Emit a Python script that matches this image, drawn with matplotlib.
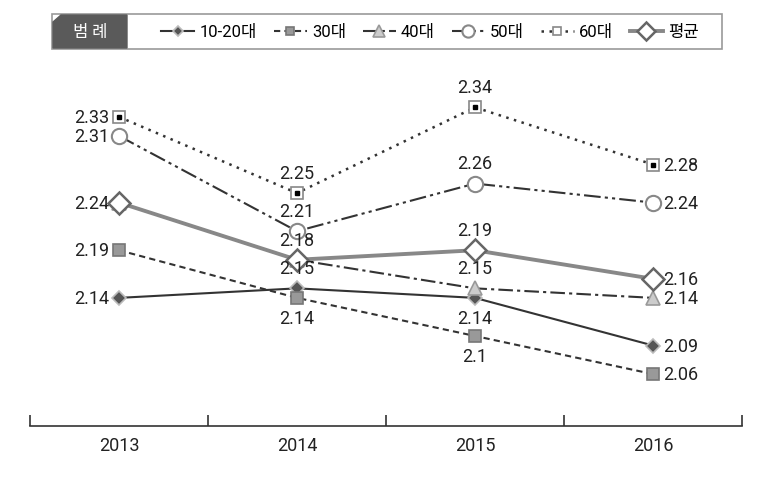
import matplotlib
matplotlib.use('Agg')
import matplotlib.pyplot as plt
from matplotlib.patches import Rectangle, Polygon
from matplotlib.lines import Line2D

plt.rcParams['font.family'] = ['Roboto', 'Noto Sans CJK KR', 'DejaVu Sans']

years = ['2013', '2014', '2015', '2016']
names = ['10-20대', '30대', '40대', '50대', '60대', '평균']
v1020 = [2.14, 2.15, 2.14, 2.09]
v30 = [2.19, 2.14, 2.10, 2.06]
v40 = [2.24, 2.18, 2.15, 2.14]
v50 = [2.31, 2.21, 2.26, 2.24]
v60 = [2.33, 2.25, 2.34, 2.28]
vavg = [2.24, 2.18, 2.19, 2.16]

# 라벨 위치 (l=왼쪽, r=오른쪽, t=위, b=아래, None=없음)
pos1020 = ['l', 't', 'b', 'r']
pos30 = ['l', 'b', 'b', 'r']
pos40 = [None, None, 't', 'r']
pos50 = ['l', 't', 't', 'r']
pos60 = ['l', 't', 't', 'r']
posavg = ['l', 't', 't', 'r']

W, H = 759, 485
fig = plt.figure(figsize=(W / 100, H / 100), dpi=100)
ax = fig.add_axes([30 / W, 1 - 427 / H, 712 / W, 357 / H])

x = list(range(len(years)))

styles = [
    dict(ls='-', color='#333333', lw=1.5, marker='D', ms=7, mfc='#555555', mec='#bbbbbb', mew=1.2),
    dict(ls=(0, (3, 2)), color='#333333', lw=1.5, marker='s', ms=8, mfc='#999999', mec='#777777', mew=1.2),
    dict(ls=(0, (7, 2, 1.5, 2)), color='#333333', lw=1.5, marker='^', ms=10, mfc='#cccccc', mec='#999999', mew=1.2),
    dict(ls=(0, (8, 2, 1.5, 2, 1.5, 2)), color='#333333', lw=1.5, marker='o', ms=11, mfc='white', mec='#888888', mew=1.5),
    dict(ls=(0, (1, 2.2)), color='#333333', lw=1.8, marker='s', ms=8, mfc='white', mec='#888888', mew=1.2),
    dict(ls='-', color='#888888', lw=2.8, marker='D', ms=11, mfc='white', mec='#666666', mew=1.8),
]
series = [v1020, v30, v40, v50, v60, vavg]
positions = [pos1020, pos30, pos40, pos50, pos60, posavg]

handles = []
for i, (vals, st) in enumerate(zip(series, styles)):
    z = 3 + i
    if i == 5:
        z = 10
    ax.plot(x, vals, zorder=z, **st)
    handles.append(Line2D([], [], **st))
# 60대 마커 안의 검은 점
ax.plot(x, v60, ls='none', marker='s', ms=3, color='black', zorder=9)

offs = {'l': (-7, 0, 'right', 'center'), 'r': (7, 0, 'left', 'center'),
        't': (0, 8, 'center', 'bottom'), 'b': (0, -8, 'center', 'top')}
for vals, pos in zip(series, positions):
    for xi, v, p in zip(x, vals, pos):
        if p is None:
            continue
        dx, dy, ha, va = offs[p]
        ax.annotate(f'{v:g}', (xi, v), xytext=(dx, dy), textcoords='offset points',
                    ha=ha, va=va, fontsize=13, color='#222222', zorder=20)

ax.set_xlim(-0.5, 3.5)
ax.set_ylim(2.0055, 2.0055 + 357 / 952.6)
for s in ['top', 'left', 'right']:
    ax.spines[s].set_visible(False)
ax.spines['bottom'].set_color('#333333')
ax.spines['bottom'].set_linewidth(1.2)
ax.set_yticks([])
ax.set_xticks([-0.5, 0.5, 1.5, 2.5, 3.5])
ax.set_xticklabels([])
ax.tick_params(axis='x', which='major', direction='in', length=8, width=1.2, color='#333333')
ax.set_xticks(x, minor=True)
ax.set_xticklabels(years, minor=True, fontsize=13, color='#222222')
ax.tick_params(axis='x', which='minor', length=0, pad=7)

# 범례
def fx(px):
    return px / W

def fy(py):
    return 1 - py / H

fig.patches.append(Rectangle((fx(52), fy(50)), fx(722) - fx(52), fy(15) - fy(50),
                             transform=fig.transFigure, facecolor='white',
                             edgecolor='#999999', lw=1.2, zorder=1))
fig.patches.append(Polygon([(fx(53), fy(49)), (fx(53), fy(23)), (fx(61), fy(16)),
                            (fx(127), fy(16)), (fx(127), fy(49))],
                           closed=True, transform=fig.transFigure,
                           facecolor='#5a5a5a', edgecolor='#5a5a5a', zorder=2))
fig.text(fx(90), fy(33), '범 례', color='white', fontsize=12, ha='center', va='center',
         family=['Noto Sans CJK KR'], zorder=3)
fig.legend(handles, names, loc='center', bbox_to_anchor=(fx(430), fy(33)), ncol=6,
           frameon=False, fontsize=12, handlelength=2.0, columnspacing=1.0,
           handletextpad=0.3, markerscale=0.8)

fig.savefig('out.png', dpi=100)
